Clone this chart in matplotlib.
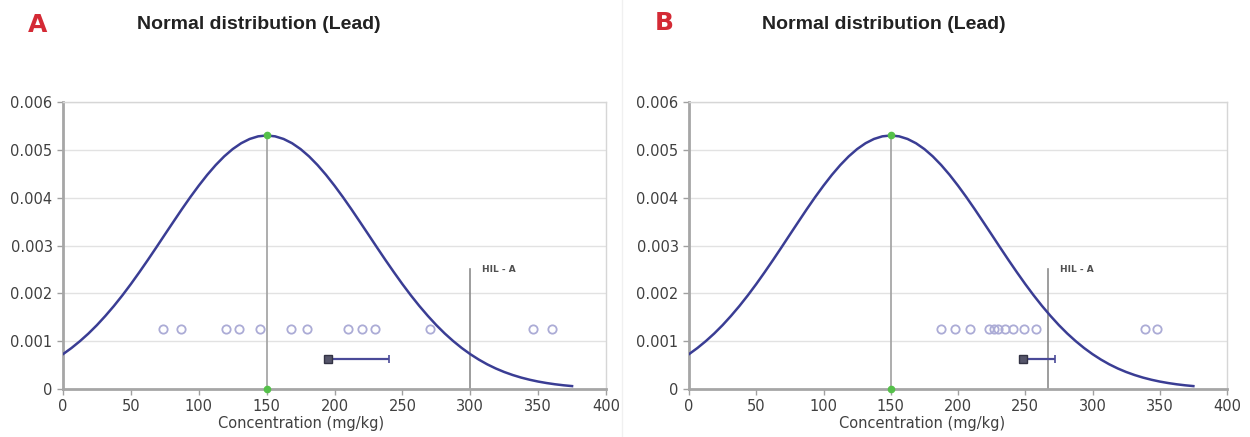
import matplotlib
matplotlib.use("Agg")
import matplotlib.pyplot as plt
from matplotlib.lines import Line2D

# normal curve, shared by both panels
curve_x = [0, 6.25, 12.5, 18.75, 25, 31.25, 37.5, 43.75, 50, 56.25, 62.5, 68.75,
           75, 81.25, 87.5, 93.75, 100, 106.25, 112.5, 118.75, 125, 131.25,
           137.5, 143.75, 150, 156.25, 162.5, 168.75, 175, 181.25, 187.5,
           193.75, 200, 206.25, 212.5, 218.75, 225, 231.25, 237.5, 243.75,
           250, 256.25, 262.5, 268.75, 275, 281.25, 287.5, 293.75, 300,
           306.25, 312.5, 318.75, 325, 331.25, 337.5, 343.75, 350, 356.25,
           362.5, 368.75, 375]
curve_y = [0.000729, 0.000857, 0.001001, 0.001160, 0.001336, 0.001529,
           0.001736, 0.001958, 0.002194, 0.002442, 0.002698, 0.002961,
           0.003228, 0.003493, 0.003756, 0.004010, 0.004251, 0.004477,
           0.004682, 0.004863, 0.005016, 0.005138, 0.005227, 0.005282,
           0.005300, 0.005282, 0.005227, 0.005138, 0.005016, 0.004863,
           0.004682, 0.004477, 0.004251, 0.004010, 0.003756, 0.003493,
           0.003228, 0.002961, 0.002698, 0.002442, 0.002194, 0.001958,
           0.001736, 0.001529, 0.001336, 0.001160, 0.001001, 0.000857,
           0.000729, 0.000616, 0.000516, 0.000430, 0.000356, 0.000293,
           0.000239, 0.000194, 0.000156, 0.000125, 0.000099, 0.000078,
           0.000061]
mu = 150
peak = 0.0053

# samples
samples_a = [74, 87, 120, 130, 145, 168, 180, 210, 220, 230, 270, 346, 360]
samples_b = [187, 198, 209, 223, 227, 230, 235, 241, 249, 258, 339, 348]
sample_level = 0.00125

# mean and 95% UCL
mean_a, ucl_a = 195, 240
mean_b, ucl_b = 248, 272
err_level = 0.000625

# HIL - A threshold
hil_a_pos, hil_b_pos = 300, 267
hil_top = 0.0025

panels = [
    ("A", samples_a, mean_a, ucl_a, hil_a_pos),
    ("B", samples_b, mean_b, ucl_b, hil_b_pos),
]

fig = plt.figure(figsize=(12.5, 4.37), dpi=100)
boxes = [[0.0504, 0.1098, 0.4344, 0.6568], [0.5512, 0.1098, 0.4304, 0.6568]]
label_x = [0.438, 0.433]

navy = "#3a3d94"
txt = "#404040"

for i, (letter, samples, mean, ucl, hil) in enumerate(panels):
    ax = fig.add_axes(boxes[i])
    ax.set_xlim(0, 400)
    ax.set_ylim(0, 0.006)
    ax.set_xticks(range(0, 401, 50))
    ax.set_yticks([0, 0.001, 0.002, 0.003, 0.004, 0.005, 0.006])
    ax.set_yticklabels(["0", "0.001", "0.002", "0.003", "0.004", "0.005", "0.006"])
    ax.tick_params(colors="#a0a0a0", labelcolor=txt, labelsize=10.5, length=4, width=1)
    ax.grid(axis="y", color="#e2e2e2", linewidth=1)
    ax.set_axisbelow(True)
    for s in ["left", "bottom"]:
        ax.spines[s].set_color("#a6a6a6")
        ax.spines[s].set_linewidth(2)
    for s in ["top", "right"]:
        ax.spines[s].set_color("#d6d6d6")
        ax.spines[s].set_linewidth(1)

    # mean line
    ax.plot([mu, mu], [0, peak], color="#a0a0a0", linewidth=1.2, zorder=2)
    # HIL line
    ax.plot([hil, hil], [0, hil_top], color="#8c8c8c", linewidth=1.2, zorder=2)
    ax.text(hil + 9, hil_top, "HIL - A", fontsize=6.5, fontweight="bold",
            color="#505050", va="center", ha="left")

    ax.plot(curve_x, curve_y, color=navy, linewidth=1.8, zorder=3)

    ax.plot(samples, [sample_level] * len(samples), "o", markerfacecolor="none",
            markeredgecolor="#acacd6", markersize=6, markeredgewidth=1.3, zorder=4)

    ax.errorbar([mean], [err_level], xerr=[[0], [ucl - mean]], fmt="s",
                color="#5a5aa0", ecolor="#4a4a98", markerfacecolor="#55556a",
                markeredgecolor="#333344", markersize=5.5, capsize=3,
                elinewidth=1.6, capthick=1.2, zorder=5)

    ax.plot([mu, mu], [0, peak], "o", color="#55c04a", markersize=4.5,
            zorder=6, clip_on=False)

    ax.set_xlabel("Concentration (mg/kg)", fontsize=10.5, color=txt, labelpad=2)
    ax.xaxis.set_label_coords(label_x[i], -0.095)

fig.text(0.0304, 0.943, "A", fontsize=18, fontweight="bold", color="#d42a35",
         family="DejaVu Sans", ha="center", va="center")
fig.text(0.5312, 0.947, "B", fontsize=18, fontweight="bold", color="#d42a35",
         family="DejaVu Sans", ha="center", va="center")
fig.text(0.207, 0.943, "Normal distribution (Lead)", fontsize=14,
         fontweight="bold", color="#222222", family="Liberation Sans",
         ha="center", va="center")
fig.text(0.707, 0.943, "Normal distribution (Lead)", fontsize=14,
         fontweight="bold", color="#222222", family="Liberation Sans",
         ha="center", va="center")

fig.add_artist(Line2D([0.4976, 0.4976], [0, 1], color="#f0f0f0", linewidth=1))

fig.savefig("out.png", dpi=100, facecolor="white")
